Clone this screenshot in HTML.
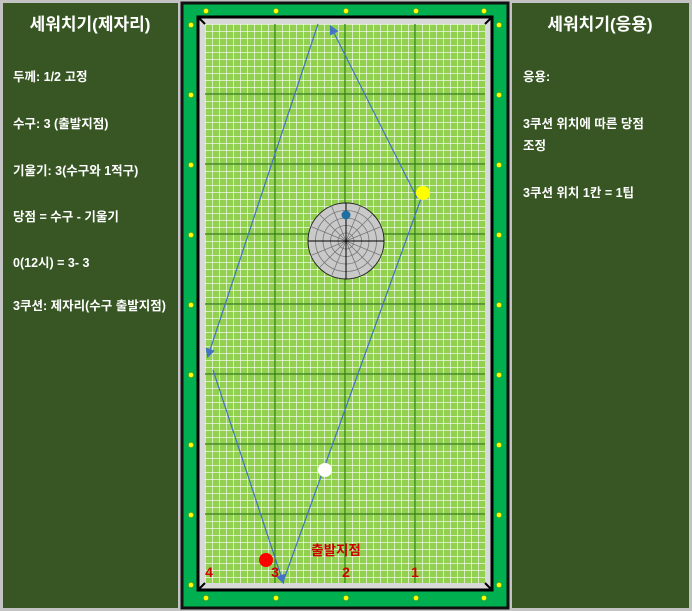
<!DOCTYPE html>
<html><head><meta charset="utf-8"><style>
html,body{margin:0;padding:0;width:692px;height:611px;background:#c3c3c3;overflow:hidden}
svg{display:block}
text{font-family:"Liberation Sans","Noto Sans CJK KR",sans-serif;font-weight:bold}
</style></head><body>
<svg width="692" height="611" viewBox="0 0 692 611">
<rect x="3" y="3" width="175" height="605" fill="#375623"/>
<g fill="#fff" font-size="12.5">
<text x="90" y="30" font-size="17" text-anchor="middle" font-weight="normal">세워치기(제자리)</text>
<text x="13" y="81">두께: 1/2 고정</text>
<text x="13" y="128">수구: 3 (출발지점)</text>
<text x="13" y="175">기울기: 3(수구와 1적구)</text>
<text x="13" y="221">당점 = 수구 - 기울기</text>
<text x="13" y="267">0(12시) = 3- 3</text>
<text x="13" y="310">3쿠션: 제자리(수구 출발지점)</text>
</g>
<rect x="512" y="3" width="177" height="605" fill="#375623"/>
<g fill="#fff" font-size="12.5">
<text x="600" y="30" font-size="17" text-anchor="middle" font-weight="normal">세워치기(응용)</text>
<text x="523" y="81">응용:</text>
<text x="523" y="128">3쿠션 위치에 따른 당점</text>
<text x="523" y="150">조정</text>
<text x="523" y="197">3쿠션 위치 1칸 = 1팁</text>
</g>
<rect x="182" y="3" width="326" height="605" fill="#00b050" stroke="#111" stroke-width="3"/>
<rect x="198" y="17" width="294" height="573" fill="#d9d9d9" stroke="#000" stroke-width="3"/>
<g stroke="#000" stroke-width="2">
<line x1="199" y1="18" x2="205" y2="24"/><line x1="491" y1="18" x2="485" y2="24"/>
<line x1="199" y1="589" x2="205" y2="583"/><line x1="491" y1="589" x2="485" y2="583"/>
</g>
<defs>
<pattern id="minor" x="205" y="24" width="7" height="7" patternUnits="userSpaceOnUse">
<rect width="7" height="7" fill="#92d050"/>
<path d="M0 0H7M0 0V7" stroke="#fff" stroke-width="1.2"/>
</pattern>
<marker id="arr" markerWidth="8" markerHeight="8" refX="6" refY="4" orient="auto"><path d="M0 0L8 4L0 8z" fill="#4472c4"/></marker>
</defs>
<rect x="205" y="24" width="280" height="559" fill="url(#minor)"/>
<g id="major" stroke="#2f7a12" stroke-width="1.2"></g>
<g id="diamonds"></g>
<g>
<circle cx="346" cy="241" r="38" fill="#c9c9c9" stroke="#222" stroke-width="1"/>
<g id="web" stroke="#777" stroke-width="0.8" fill="none"></g>
<line x1="308" y1="241" x2="384" y2="241" stroke="#000"/>
<line x1="346" y1="203" x2="346" y2="279" stroke="#000"/>
<circle cx="346" cy="215" r="4.5" fill="#1f6fa0"/>
</g>
<g stroke="#4472c4" stroke-width="1.2" fill="none">
<line x1="283" y1="582" x2="423" y2="193"/>
<line x1="417" y1="198" x2="331" y2="27" marker-end="url(#arr)"/>
<line x1="318" y1="24" x2="208" y2="356" marker-end="url(#arr)"/>
<line x1="213" y1="370" x2="283" y2="582" marker-end="url(#arr)"/>
</g>
<circle cx="423" cy="193" r="7" fill="#ffff00"/>
<circle cx="325" cy="470" r="7" fill="#fff"/>
<circle cx="266" cy="560" r="7" fill="#ff0000"/>
<text x="336" y="555" fill="#d00000" font-size="13.5" text-anchor="middle" font-weight="normal">출발지점</text>
<g fill="#d00000" font-size="14" text-anchor="middle">
<text x="209" y="577">4</text><text x="275" y="577">3</text><text x="346" y="577">2</text><text x="415" y="577">1</text>
</g>
</svg>
<script>
const ns="http://www.w3.org/2000/svg";
const major=document.getElementById('major');
for(let i=1;i<4;i++){const l=document.createElementNS(ns,'line');


const x=205+i*70;l.setAttribute('x1',x);l.setAttribute('x2',x);l.setAttribute('y1',24);l.setAttribute('y2',583);major.appendChild(l);}
for(let i=1;i<8;i++){const l=document.createElementNS(ns,'line');


const y=24+i*70;l.setAttribute('y1',y);l.setAttribute('y2',y);l.setAttribute('x1',205);l.setAttribute('x2',485);major.appendChild(l);}
const dg=document.getElementById('diamonds');
function dot(x,y){const c=document.createElementNS(ns,'circle');


c.setAttribute('cx',x);c.setAttribute('cy',y);c.setAttribute('r',2.5);c.setAttribute('fill','#ffff00');c.setAttribute('stroke','#9a9a00');c.setAttribute('stroke-width','0.5');dg.appendChild(c);}
[206,276,346,416,484].forEach(x=>{dot(x,11);dot(x,598);});
for(let i=0;i<9;i++){dot(191,25+i*70);dot(499,25+i*70);}
const web=document.getElementById('web');
for(let r=8;r<38;r+=7.5){const c=document.createElementNS(ns,'circle');c.setAttribute('cx',346);c.setAttribute('cy',241);c.setAttribute('r',r);web.appendChild(c);}
for(let a=0;a<360;a+=22.5){const l=document.createElementNS(ns,'line');const t=a*Math.PI/180;
l.setAttribute('x1',346);l.setAttribute('y1',241);l.setAttribute('x2',346+38*Math.cos(t));l.setAttribute('y2',241+38*Math.sin(t));web.appendChild(l);}
</script>
</body></html>
